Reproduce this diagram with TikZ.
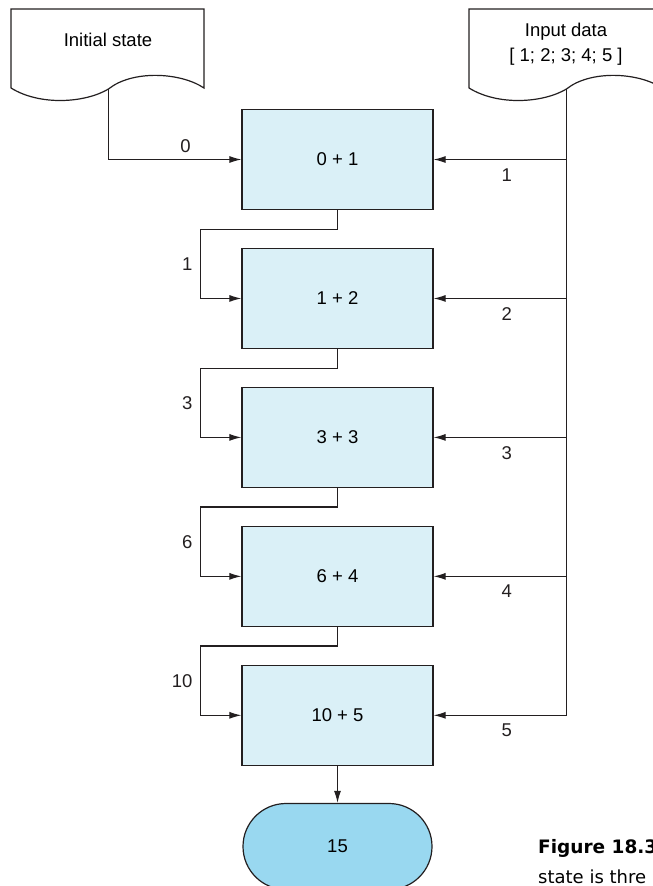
\documentclass[tikz,border=0pt]{standalone}
\usepackage{fontspec}
\setmainfont{Liberation Sans}
\newfontfamily\capfont{DejaVu Sans}
\usetikzlibrary{positioning, arrows.meta, shapes.misc}

\definecolor{boxblue}{RGB}{218,240,247}
\definecolor{endblue}{RGB}{153,216,240}
\definecolor{ink}{RGB}{35,31,32}

\tikzset{
  docshape/.pic={
    \draw[line width=1.2pt, ink, fill=white] (0,79) -- (0,0) -- (193,0) -- (193,79)
      .. controls (169,63) and (121,61) .. (97.5,80)
      .. controls (74,94) and (29,97) .. (0,79);
    \coordinate (-out) at (97.5,80);
    \node[align=center] (-txt) at (97,#1) {\tikzpictext};
  },
}

\begin{document}
\begin{tikzpicture}[
  x=1pt, y=-1pt,
  font=\fontsize{18.5}{25}\selectfont,
  stepbox/.style={draw=ink, line width=1.2pt, fill=boxblue,
    minimum width=191pt, minimum height=100pt, inner sep=0pt},
  result/.style={draw=ink, line width=1.2pt, fill=endblue, rounded rectangle,
    minimum width=189pt, minimum height=86pt, inner sep=0pt},
  arrow/.style={-{Latex[length=12pt,width=7pt]}, line width=1.1pt, ink},
  wire/.style={line width=1.1pt, ink},
]
  \useasboundingbox (0,0) rectangle (653,886);

  % sources
  \pic[pic text={Initial state}] (ini) at (11,9) {docshape=31};
  \pic[pic text={Input data\\{[} 1; 2; 3; 4; 5 ]}] (inp) at (469,9) {docshape=35};

  % folding steps
  \node[stepbox] (s1) at (337.5,159.5) {0 + 1};
  \node[stepbox, below=37.75pt of s1] (s2) {1 + 2};
  \node[stepbox, below=37.75pt of s2] (s3) {3 + 3};
  \node[stepbox, below=37.75pt of s3] (s4) {6 + 4};
  \node[stepbox, below=37.75pt of s4] (s5) {10 + 5};
  \node[result, below=37pt of s5] (res) {15};

  \draw[arrow] (ini-out) |- node[pos=0.79, above=3pt] {0} (s1.west);

  \foreach \a/\b/\v in {s1/s2/1, s2/s3/3, s3/s4/6, s4/s5/10}
    \draw[arrow] (\a.south) -- ++(0,19) -| node[pos=0.75, left=4pt] {\v}
      ([xshift=-41pt]\b.west) -- (\b.west);

  % input elements
  \coordinate (bus) at (inp-out |- s5.east);
  \draw[wire] (inp-out) -- (bus);
  \foreach \i in {1,...,5}
    \draw[arrow] (inp-out |- s\i.east) -- node[pos=0.45, below=5pt] {\i} (s\i.east);

  \draw[arrow] (s5.south) -- (res.north);

  % caption (cut off at the edge)
  \node[anchor=base west, inner sep=0pt, font=\capfont\bfseries\fontsize{18.5}{20}\selectfont]
    (cap1) at (538,853) {Figure 18.3};
  \node[anchor=base west, inner sep=0pt, font=\capfont\fontsize{18}{20}\selectfont]
    (cap2) at (538,883) {state is thre};
\end{tikzpicture}
\end{document}
